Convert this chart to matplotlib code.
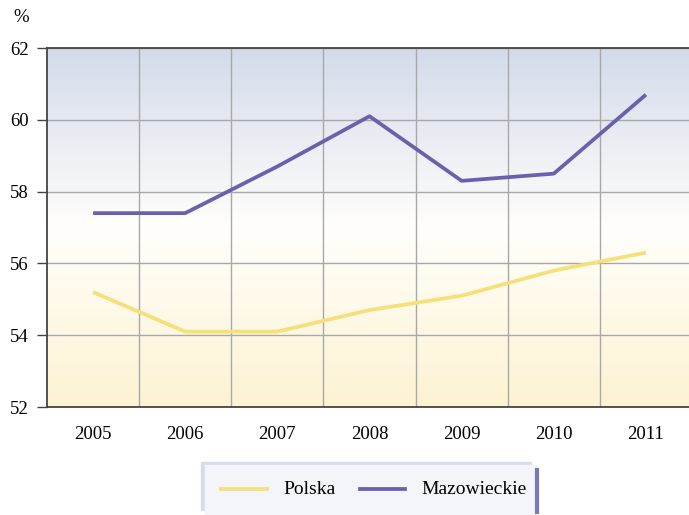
import numpy as np
import matplotlib.pyplot as plt
from matplotlib.colors import LinearSegmentedColormap
from matplotlib.patches import Rectangle
from matplotlib.lines import Line2D

years = ['2005', '2006', '2007', '2008', '2009', '2010', '2011']
polska = [55.2, 54.1, 54.1, 54.7, 55.1, 55.8, 56.3]
mazowieckie = [57.4, 57.4, 58.7, 60.1, 58.3, 58.5, 60.7]
yticks = [52, 54, 56, 58, 60, 62]

plt.rcParams['font.family'] = ['Liberation Serif', 'DejaVu Serif']

W, H = 689, 515
fig = plt.figure(figsize=(W / 100, H / 100), dpi=100)
ax = fig.add_axes([47 / W, 108 / H, 645 / W, 359 / H])

x = np.arange(len(years))
ax.set_xlim(-0.5, 6.5)
ax.set_ylim(52, 62)

# background gradient (blue on top -> white -> yellow at bottom)
cmap = LinearSegmentedColormap.from_list('bg', [(0, '#fdf3d2'), (0.5, '#fffefb'), (1, '#d3dbea')])
grad = np.linspace(0, 1, 256).reshape(-1, 1)
ax.imshow(grad, aspect='auto', cmap=cmap, origin='lower',
          extent=[-0.5, 6.5, 52, 62], zorder=0)

ax.set_yticks(yticks)
ax.set_xticks(x)
ax.set_xticklabels(years)
ax.set_xticks(x[:-1] + 0.5, minor=True)
ax.grid(True, which='minor', axis='x', color='#a8a8a8', lw=1)
ax.grid(True, which='major', axis='y', color='#a8a8a8', lw=1)
ax.tick_params(axis='x', which='both', length=0, labelsize=13.5, pad=14)
ax.tick_params(axis='y', length=7, width=1, color='#444444', labelsize=13.5, pad=6)
for s in ['top', 'left', 'bottom']:
    ax.spines[s].set_color('#444444')
    ax.spines[s].set_linewidth(1.3)
ax.spines['right'].set_visible(False)

ax.plot(x, polska, color='#f5e07a', lw=2.7, zorder=3, solid_capstyle='butt')
ax.plot(x, mazowieckie, color='#6a60ad', lw=2.7, zorder=3, solid_capstyle='butt')

fig.text(13 / W, 1 - 18 / H, '%', fontsize=13.5, va='center')

# legend box with shadow
def fx(px):
    return px / W

def fy(py):
    return 1 - py / H

fig.patches.append(Rectangle((fx(201), fy(510)), fx(330), 48 / H,
                             transform=fig.transFigure, color='#d5dcea', zorder=1))
fig.patches.append(Rectangle((fx(205), fy(515)), fx(331), 50 / H,
                             transform=fig.transFigure, color='#f3f5fa', zorder=2))
fig.lines.append(Line2D([fx(537), fx(537)], [fy(470), fy(512)],
                        transform=fig.transFigure, color='#7a78b8', lw=3, zorder=3))
fig.lines.append(Line2D([fx(221), fx(267)], [fy(489), fy(489)],
                        transform=fig.transFigure, color='#f5e07a', lw=2.7, zorder=3))
fig.lines.append(Line2D([fx(360), fx(405)], [fy(489), fy(489)],
                        transform=fig.transFigure, color='#6a60ad', lw=2.7, zorder=3))
fig.text(fx(283), fy(490), 'Polska', fontsize=14, va='center', zorder=4)
fig.text(fx(421), fy(490), 'Mazowieckie', fontsize=14, va='center', zorder=4)

plt.savefig('out.png', dpi=100)
